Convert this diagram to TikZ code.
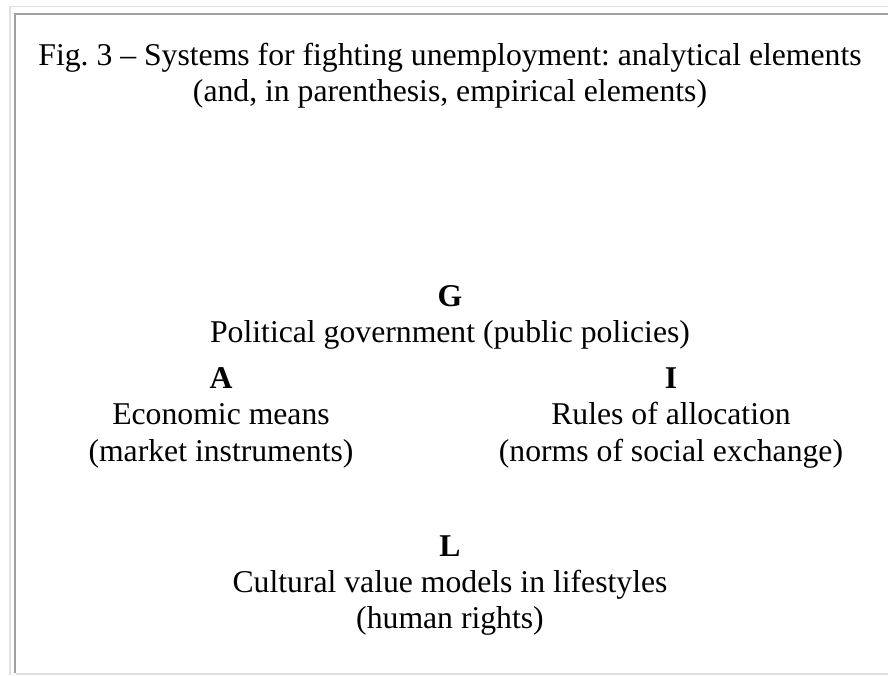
\documentclass[tikz,border=0pt]{standalone}
\usepackage{fontspec}
\setmainfont{Liberation Serif}
\definecolor{framelight}{HTML}{E0E0E0}
\definecolor{framedark}{HTML}{A0A0A0}
\begin{document}
\frenchspacing
\begin{tikzpicture}[x=1pt,y=-1pt,
  txt/.style={inner sep=0pt,anchor=base,font=\fontsize{31.7}{36}\selectfont},
  hd/.style={txt,font=\fontsize{31.7}{36}\selectfont\bfseries}]
\useasboundingbox (0,0) rectangle (888,675);
\fill[white] (0,0) rectangle (888,675);
% frame
\draw[framelight,line width=1.5pt] (10,675) -- (10,6.5) -- (888,6.5);
\draw[framedark,line width=2pt] (15,673) -- (15,14) -- (888,14);
\draw[framelight,line width=2pt] (16,674) -- (888,674);
% title
\node[txt] (t1) at (450,65) {Fig.\ 3 – Systems for fighting unemployment: analytical elements};
\node[txt] (t2) at (450,101) {(and, in parenthesis, empirical elements)};
% G
\node[hd] (G) at (450,306) {G};
\node[txt] (G1) at (450,342) {Political government (public policies)};
% A
\node[hd] (A) at (221,388) {A};
\node[txt] (A1) at (221,424) {Economic means};
\node[txt] (A2) at (221,461) {(market instruments)};
% I
\node[hd] (I) at (671,388) {I};
\node[txt] (I1) at (671,424) {Rules of allocation};
\node[txt] (I2) at (671,461) {(norms of social exchange)};
% L
\node[hd] (L) at (450,556) {L};
\node[txt] (L1) at (450,592) {Cultural value models in lifestyles};
\node[txt] (L2) at (450,628) {(human rights)};
\end{tikzpicture}
\end{document}
